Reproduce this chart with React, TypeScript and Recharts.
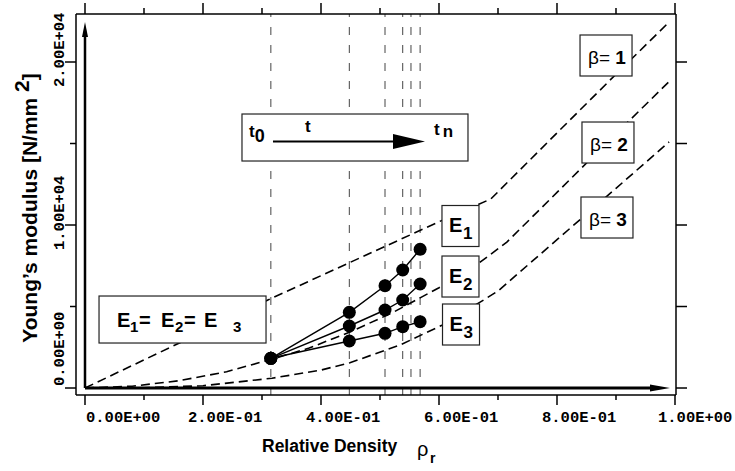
import React from 'react';
import { ComposedChart, Line, Scatter, XAxis, YAxis, ReferenceLine } from 'recharts';

// ---- tick values / labels ----
const rhoTicks = [0, 0.1, 0.2, 0.3, 0.4, 0.5, 0.6, 0.7, 0.8, 0.9, 1.0];
const rhoTickLabels = ['0.00E+00', '', '2.00E-01', '', '4.00E-01', '', '6.00E-01', '', '8.00E-01', '', '1.00E+00'];
const modulusTicks = [0, 5000, 10000, 15000, 20000];
const modulusTickLabels = ['0.00E+00', '', '1.00E+04', '', '2.00E+04'];

// ---- sintering steps (t0 ... tn) ----
const stepDensity = [0.315, 0.448, 0.5085, 0.5385, 0.568];
const e1Modulus = [1822, 4644, 6276, 7239, 8509];
const e2Modulus = [1822, 3804, 4785, 5399, 6380];
const e3Modulus = [1822, 2883, 3356, 3761, 4067];
const timeMarks = [0.315, 0.448, 0.5085, 0.5385, 0.5525, 0.568];

// ---- beta curves ----
const beta1Density = [0, 0.16, 0.31, 0.6, 0.688, 0.8, 0.9, 0.99];
const beta1Modulus = [0, 2760, 5400, 10200, 11600, 15650, 19250, 22450];
const beta2Density = [0, 0.08, 0.16, 0.24, 0.315, 0.38, 0.45, 0.52, 0.6, 0.669, 0.715, 0.8, 0.9, 0.99];
const beta2Modulus = [0, 110, 450, 1000, 1750, 2450, 3450, 4600, 6150, 7700, 8950, 12000, 15600, 18800];
const beta3Density = [0, 0.1, 0.2, 0.317, 0.4, 0.449, 0.534, 0.605, 0.669, 0.7, 0.8, 0.9, 0.99];
const beta3Modulus = [0, 20, 140, 600, 1100, 1550, 2640, 3850, 5250, 5950, 9100, 12250, 15100];

// ---- annotation anchors (data coordinates) ----
const noteIds = ['time', 'equal', 'E1', 'E2', 'E3', 'b1', 'b2', 'b3', 'upHead', 'rightHead'];
const noteDensity = [0.4576, 0.1653, 0.6364, 0.6364, 0.6373, 0.8831, 0.8864, 0.8847, 0, 0.9915];
const noteModulus = [15368, 4202, 9939, 6840, 3896, 20399, 15061, 10460, 22454, 0];

const X_DOMAIN: [number, number] = [-0.015254, 1.001695];
const Y_DOMAIN: [number, number] = [-429, 22945];

const toPoints = (xs: number[], ys: number[]) => xs.map((x, i) => ({ x, y: ys[i] }));

const SANS = "'Liberation Sans', Arial, sans-serif";
const MONO = "'Liberation Mono', 'Courier New', monospace";

const BottomTick = (props: any) => {
  const { x, y, index } = props;
  const major = index % 2 === 0;
  const label = rhoTickLabels[index];
  const lx = index === 0 ? x + 1 : index === rhoTicks.length - 1 ? x - 17 : x - 15;
  return (
    <g>
      <line x1={x} x2={x} y1={y} y2={y + (major ? 10 : 5)} stroke="#000" strokeWidth={1.5} />
      {major && label ? (
        <text x={lx} y={y + 27} fontFamily={MONO} fontWeight="bold" fontSize={15.5} fill="#000" textAnchor="start">
          {label}
        </text>
      ) : null}
    </g>
  );
};

const TopTick = (props: any) => {
  const { x, y, index } = props;
  const major = index % 2 === 0;
  return <line x1={x} x2={x} y1={y} y2={y - (major ? 11 : 6)} stroke="#000" strokeWidth={1.5} />;
};

const LeftTick = (props: any) => {
  const { x, y, index } = props;
  const major = index % 2 === 0;
  const label = modulusTickLabels[index];
  const sy = index === 0 ? y - 2 : y + 25;
  return (
    <g>
      <line x1={x} x2={x - (major ? 11 : 6)} y1={y} y2={y} stroke="#000" strokeWidth={1.5} />
      {major && label ? (
        <text x={64} y={sy} transform={`rotate(-90, 64, ${sy})`} fontFamily={MONO} fontWeight="bold" fontSize={15.5} fill="#000" textAnchor="start">
          {label}
        </text>
      ) : null}
    </g>
  );
};

const RightTick = (props: any) => {
  const { x, y } = props;
  return <line x1={x} x2={x + 11} y1={y} y2={y} stroke="#000" strokeWidth={1.5} />;
};

const boxStroke = { fill: '#fff', stroke: '#222', strokeWidth: 1.2 };

const renderNote = (props: any) => {
  const { cx, cy, payload } = props;
  const id = payload.id;
  if (id === 'upHead') {
    return <polygon points={`${cx},${cy} ${cx - 3},${cy + 15} ${cx + 3},${cy + 15}`} fill="#000" />;
  }
  if (id === 'rightHead') {
    return <polygon points={`${cx},${cy} ${cx - 20},${cy - 3.5} ${cx - 20},${cy + 3.5}`} fill="#000" />;
  }
  if (id === 'time') {
    const w = 226, h = 47, L = cx - w / 2, T = cy - h / 2;
    return (
      <g>
        <rect x={L} y={T} width={w} height={h} {...boxStroke} />
        <text x={L + 7} y={T + 23} fontFamily={SANS} fontWeight="bold" fontSize={17} fill="#000">
          t<tspan fontSize={18} dy={5}>0</tspan>
        </text>
        <line x1={L + 31} x2={L + 153} y1={T + 27.5} y2={T + 27.5} stroke="#000" strokeWidth={2} />
        <polygon points={`${L + 151},${T + 20} ${L + 183},${T + 27.5} ${L + 151},${T + 35}`} fill="#000" />
        <text x={L + 63} y={T + 18} fontFamily={SANS} fontWeight="bold" fontSize={17} fill="#000">t</text>
        <text x={L + 192} y={T + 21} fontFamily={SANS} fontWeight="bold" fontSize={17} fill="#000">
          t<tspan dx={3} dy={2}>n</tspan>
        </text>
      </g>
    );
  }
  if (id === 'equal') {
    const w = 167, h = 47, L = cx - w / 2, T = cy - h / 2;
    const big = { fontFamily: SANS, fontWeight: 'bold' as const, fontSize: 20, fill: '#000' };
    const sub = { fontFamily: SANS, fontWeight: 'bold' as const, fontSize: 15, fill: '#000' };
    return (
      <g>
        <rect x={L} y={T} width={w} height={h} {...boxStroke} />
        <text x={L + 18} y={T + 31} {...big}>E</text>
        <text x={L + 31} y={T + 36} {...sub}>1</text>
        <text x={L + 40} y={T + 31} {...big}>=</text>
        <text x={L + 62} y={T + 31} {...big}>E</text>
        <text x={L + 76} y={T + 36} {...sub}>2</text>
        <text x={L + 85} y={T + 31} {...big}>=</text>
        <text x={L + 105} y={T + 31} {...big}>E</text>
        <text x={L + 134} y={T + 36} {...sub}>3</text>
      </g>
    );
  }
  if (id === 'E1' || id === 'E2' || id === 'E3') {
    const w = 37, h = 41, L = cx - w / 2, T = cy - h / 2;
    return (
      <g>
        <rect x={L} y={T} width={w} height={h} {...boxStroke} />
        <text x={L + 7} y={cy + 6.5} fontFamily={SANS} fontWeight="bold" fontSize={20} fill="#000">E</text>
        <text x={L + 21} y={cy + 13.5} fontFamily={SANS} fontWeight="bold" fontSize={17} fill="#000">{id.slice(1)}</text>
      </g>
    );
  }
  if (id === 'b1' || id === 'b2' || id === 'b3') {
    const w = 52, h = 41, L = cx - w / 2, T = cy - h / 2;
    return (
      <g>
        <rect x={L} y={T} width={w} height={h} {...boxStroke} />
        <text x={cx - 18} y={cy + 8} fontFamily={SANS} fontSize={19} fill="#000">
          β= <tspan fontWeight="bold">{id.slice(1)}</tspan>
        </text>
      </g>
    );
  }
  return <g />;
};

export default function App() {
  const beta1 = toPoints(beta1Density, beta1Modulus);
  const beta2 = toPoints(beta2Density, beta2Modulus);
  const beta3 = toPoints(beta3Density, beta3Modulus);
  const e1 = toPoints(stepDensity, e1Modulus);
  const e2 = toPoints(stepDensity, e2Modulus);
  const e3 = toPoints(stepDensity, e3Modulus);
  const notes = noteIds.map((id, i) => ({ id, x: noteDensity[i], y: noteModulus[i] }));

  const curveProps = {
    type: 'linear' as const,
    dataKey: 'y',
    stroke: '#000',
    strokeWidth: 1.6,
    strokeDasharray: '9 5',
    dot: false,
    activeDot: false,
    isAnimationActive: false,
  };
  const stepProps = {
    type: 'linear' as const,
    dataKey: 'y',
    stroke: '#000',
    strokeWidth: 1.4,
    dot: { r: 6.5, fill: '#000', stroke: '#000', strokeWidth: 0 },
    activeDot: false,
    isAnimationActive: false,
  };

  return (
    <div style={{ position: 'absolute', left: 0, top: 0, width: 735, height: 471, background: '#fff' }}>
      <ComposedChart width={735} height={471} margin={{ top: 0, right: 0, bottom: 0, left: 0 }}>
        <XAxis
          dataKey="x"
          type="number"
          domain={X_DOMAIN}
          allowDataOverflow
          ticks={rhoTicks}
          interval={0}
          height={76}
          tickSize={0}
          tickMargin={0}
          tickLine={false}
          axisLine={{ stroke: '#000', strokeWidth: 1.5 }}
          tick={<BottomTick />}
        />
        <XAxis
          xAxisId="top"
          orientation="top"
          dataKey="x"
          type="number"
          domain={X_DOMAIN}
          allowDataOverflow
          ticks={rhoTicks}
          interval={0}
          height={14}
          tickSize={0}
          tickMargin={0}
          tickLine={false}
          axisLine={{ stroke: '#000', strokeWidth: 1.5 }}
          tick={<TopTick />}
        />
        <YAxis
          type="number"
          domain={Y_DOMAIN}
          allowDataOverflow
          ticks={modulusTicks}
          interval={0}
          width={76}
          tickSize={0}
          tickMargin={0}
          tickLine={false}
          axisLine={{ stroke: '#000', strokeWidth: 1.5 }}
          tick={<LeftTick />}
        />
        <YAxis
          yAxisId="right"
          orientation="right"
          type="number"
          domain={Y_DOMAIN}
          allowDataOverflow
          ticks={modulusTicks}
          interval={0}
          width={59}
          tickSize={0}
          tickMargin={0}
          tickLine={false}
          axisLine={{ stroke: '#000', strokeWidth: 1.5 }}
          tick={<RightTick />}
        />

        {timeMarks.map((m) => (
          <ReferenceLine key={m} x={m} stroke="#444" strokeWidth={1} strokeDasharray="8 10" />
        ))}

        <ReferenceLine segment={[{ x: 0, y: 0 }, { x: 0, y: 21700 }]} stroke="#000" strokeWidth={2.5} />
        <ReferenceLine segment={[{ x: 0, y: 0 }, { x: 0.96, y: 0 }]} stroke="#000" strokeWidth={3} />

        <Line data={beta1} {...curveProps} />
        <Line data={beta2} {...curveProps} />
        <Line data={beta3} {...curveProps} />

        <Line data={e1} {...stepProps} />
        <Line data={e2} {...stepProps} />
        <Line data={e3} {...stepProps} />

        <Scatter data={notes} dataKey="y" shape={renderNote} isAnimationActive={false} />
      </ComposedChart>
      <svg width={735} height={471} style={{ position: 'absolute', left: 0, top: 0, pointerEvents: 'none' }}>
        <text x={37} y={208} transform="rotate(-90, 37, 208)" textAnchor="middle" fontFamily={SANS} fontWeight="bold" fontSize={21} fill="#000">
          Young’s modulus [N/mm <tspan dy={-8}>2</tspan><tspan dy={8}>]</tspan>
        </text>
        <text x={262} y={452} fontFamily={SANS} fontWeight="bold" fontSize={17.5} fill="#000">Relative Density</text>
        <text x={417} y={456} fontFamily={SANS} fontSize={20} fill="#000">ρ</text>
        <text x={430} y={463} fontFamily={SANS} fontWeight="bold" fontSize={14} fill="#000">r</text>
      </svg>
    </div>
  );
}
